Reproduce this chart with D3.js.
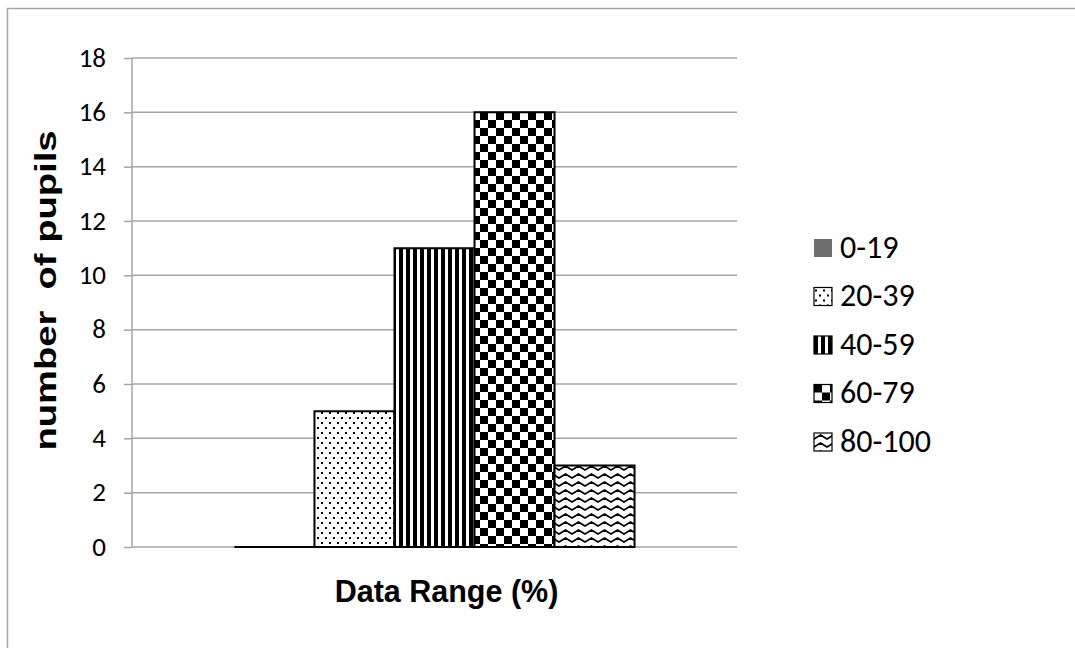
<!DOCTYPE html>
<html>
<head>
<meta charset="utf-8">
<script src="https://cdn.jsdelivr.net/npm/d3@7"></script>
<style>
  html, body { margin: 0; padding: 0; background: #fff; }
  svg { display: block; }
</style>
</head>
<body>
<svg id="chart" width="1075" height="648"></svg>
<script>
// Pupils per score band
const categories = ["Data Range (%)"];
const seriesNames = ["0-19", "20-39", "40-59", "60-79", "80-100"];
const seriesValues = [0, 5, 11, 16, 3];
const yTicks = [0, 2, 4, 6, 8, 10, 12, 14, 16, 18];
const yTitle = "number  of pupils";

const svg = d3.select("#chart");
const W = 1075, H = 648;
const plot = { left: 132, right: 737, top: 58, bottom: 547 };

// chart frame
svg.append("rect")
  .attr("x", 7.5).attr("y", 8.5)
  .attr("width", W + 10).attr("height", H + 10)
  .attr("fill", "#fff").attr("stroke", "#a6a6a6").attr("stroke-width", 1.5);

// fill patterns
const defs = svg.append("defs");

// dotted
const pDots = defs.append("pattern").attr("id", "pat-dots")
  .attr("patternUnits", "userSpaceOnUse").attr("width", 8).attr("height", 10);
pDots.append("rect").attr("width", 8).attr("height", 10).attr("fill", "#fff");
pDots.append("rect").attr("x", 1).attr("y", 2).attr("width", 2).attr("height", 2).attr("fill", "#000");
pDots.append("rect").attr("x", 5).attr("y", 7).attr("width", 2).attr("height", 2).attr("fill", "#000");

// vertical stripes
const pStripes = defs.append("pattern").attr("id", "pat-stripes")
  .attr("patternUnits", "userSpaceOnUse").attr("width", 7).attr("height", 7);
pStripes.append("rect").attr("width", 7).attr("height", 7).attr("fill", "#fff");
pStripes.append("rect").attr("x", 0).attr("y", 0).attr("width", 4).attr("height", 7).attr("fill", "#000");

// checkerboard
const pCheck = defs.append("pattern").attr("id", "pat-check")
  .attr("patternUnits", "userSpaceOnUse").attr("width", 16).attr("height", 16);
pCheck.append("rect").attr("width", 16).attr("height", 16).attr("fill", "#fff");
pCheck.append("rect").attr("x", 0).attr("y", 0).attr("width", 8).attr("height", 8).attr("fill", "#000");
pCheck.append("rect").attr("x", 8).attr("y", 8).attr("width", 8).attr("height", 8).attr("fill", "#000");

// zigzag
const pZig = defs.append("pattern").attr("id", "pat-zig")
  .attr("patternUnits", "userSpaceOnUse").attr("width", 13).attr("height", 8);
pZig.append("rect").attr("width", 13).attr("height", 8).attr("fill", "#fff");
pZig.append("path").attr("d", "M-1,6.5 L0,6 L6.5,2 L13,6 L14,6.5")
  .attr("fill", "none").attr("stroke", "#000").attr("stroke-width", 1.8);

const fills = ["#6e6e6e", "url(#pat-dots)", "url(#pat-stripes)", "url(#pat-check)", "url(#pat-zig)"];

// scales
const y = d3.scaleLinear().domain([0, 18]).range([plot.bottom, plot.top]);
const x0 = d3.scaleBand().domain(categories).range([plot.left, plot.right])
  .paddingInner(0).paddingOuter(0.256);
const x1 = d3.scaleBand().domain(seriesNames).range([0, x0.bandwidth()]).padding(0);

// tick marks on the value axis
const yAxis = d3.axisLeft(y).tickValues(yTicks).tickSize(8).tickPadding(0).tickFormat(d3.format("d"));
const gAxis = svg.append("g").attr("transform", `translate(${plot.left},0)`).call(yAxis);
gAxis.select(".domain").remove();
gAxis.selectAll(".tick line").attr("stroke", "#a6a6a6").attr("stroke-width", 1.5);
gAxis.selectAll(".tick text").remove();

// gridlines
svg.append("g").selectAll("line").data(yTicks).join("line")
  .attr("x1", plot.left).attr("x2", plot.right)
  .attr("y1", d => y(d)).attr("y2", d => y(d))
  .attr("stroke", "#a6a6a6").attr("stroke-width", 1.5);

svg.append("line")
  .attr("x1", plot.left).attr("x2", plot.left)
  .attr("y1", y(18)).attr("y2", y(0))
  .attr("stroke", "#a6a6a6").attr("stroke-width", 1.5);

svg.append("g").selectAll("text").data(yTicks).join("text")
  .attr("x", plot.left - 26).attr("y", d => y(d) + 8.5)
  .attr("text-anchor", "end")
  .attr("font-family", "Carlito, Lato, sans-serif").attr("font-size", 27)
  .attr("fill", "#000")
  .text(d => d);

// bars (drawn as closed paths so a zero value still shows its outline)
const cat = categories[0];
svg.append("g").selectAll("path").data(seriesValues).join("path")
  .attr("d", (d, i) => {
    const xa = x0(cat) + x1(seriesNames[i]);
    const xb = xa + x1.bandwidth();
    return `M${xa},${y(0)}V${y(d)}H${xb}V${y(0)}Z`;
  })
  .attr("fill", (d, i) => fills[i])
  .attr("stroke", "#000").attr("stroke-width", 2);

// axis titles
svg.append("text")
  .attr("x", x0(cat) + x0.bandwidth() / 2 + 12).attr("y", 602)
  .attr("text-anchor", "middle")
  .attr("font-family", "'Liberation Sans', Arial, sans-serif")
  .attr("font-weight", "bold").attr("font-size", 30.5)
  .text(cat);

svg.append("text")
  .attr("transform", `translate(56,${(plot.top + plot.bottom) / 2 - 12}) rotate(-90)`)
  .attr("text-anchor", "middle")
  .attr("font-family", "'Liberation Sans', Arial, sans-serif")
  .attr("font-weight", "bold").attr("font-size", 30)
  .attr("textLength", 320).attr("lengthAdjust", "spacingAndGlyphs")
  .style("white-space", "pre")
  .text(yTitle);

// legend
const legend = svg.append("g").attr("transform", "translate(814,239)");
const rows = legend.selectAll("g").data(seriesNames).join("g")
  .attr("transform", (d, i) => `translate(0,${i * 48.5})`);
rows.append("rect")
  .attr("width", 18).attr("height", 18)
  .attr("fill", (d, i) => fills[i])
  .attr("stroke", (d, i) => i === 0 ? "none" : "#000")
  .attr("stroke-width", 1.2);
rows.append("text")
  .attr("x", 26).attr("y", 18.5)
  .attr("font-family", "Carlito, Lato, sans-serif").attr("font-size", 32)
  .attr("fill", "#000")
  .text(d => d);
</script>
</body>
</html>
